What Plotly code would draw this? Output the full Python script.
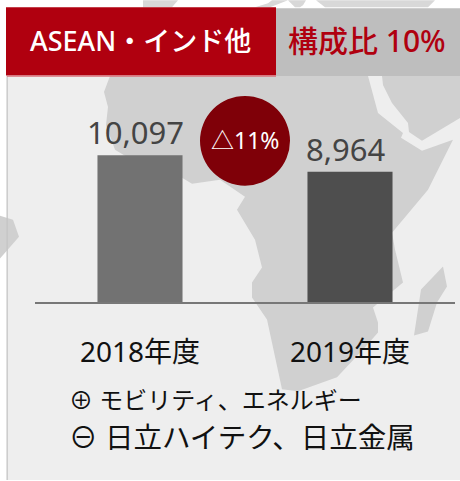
import plotly.graph_objects as go

categories = ["2018年度", "2019年度"]
values = [10097, 8964]
value_labels = ["10,097", "8,964"]
bar_colors = ["#727272", "#4e4e4e"]
header_left = "ASEAN・インド他"
header_right = "構成比 10%"
change_label = "△11%"
note_lines = ["⊕ モビリティ、エネルギー", "⊖ 日立ハイテク、日立金属"]

W, H = 460, 481
L, T, R, B = 35, 76, 455, 302.5
FONT = "Noto Sans, Noto Sans CJK JP, sans-serif"
MAP = "#d0d0d0"
TOPMAP = "#d8d8d8"

def px(x): return (x - L) / (R - L)
def py(y): return (B - y) / (B - T)
def poly(pts, color, layer="below"):
    d = "M" + "L".join(f"{px(x):.5f},{py(y):.5f}" for x, y in pts) + "Z"
    return dict(type="path", xref="paper", yref="paper", path=d, fillcolor=color,
                line=dict(width=0), layer=layer)
def rect(x0, y0, x1, y1, color, layer="below"):
    return dict(type="rect", xref="paper", yref="paper", x0=px(x0), x1=px(x1), y0=py(y1), y1=py(y0),
                fillcolor=color, line=dict(width=0), layer=layer)

africa = [(110,76),(104,92),(108,107),(106,125),(115,150),(140,165),(182,178),(192,184),(220,180),(245,197),(237,210),
          (255,240),(262,268),(252,283),(252,298),(267,320),(282,390),(298,392),(337,378),(363,350),(378,333),(378,323),
          (373,308),(403,283),(395,250),(392,233),(428,190),(453,140),(422,151),(401,138),(403,133),(378,113),(368,76)]
arabia = [(382,76),(383,85),(392,103),(408,123),(409,132),(422,141),(460,118),(460,76)]
madagascar = [(443,267),(447,287),(437,303),(428,332),(414,336),(421,290)]
west = [(0,216),(13,220),(19,237),(0,259)]
top_a = [(143,0),(178,0),(172,7),(143,7)]
top_b = [(255,7),(268,3),(272,0),(306,0),(303,5),(300,7),(295,7),(288,0),(270,7)]
top_c = [(316,0),(435,0),(428,7),(325,7)]

shapes = [
    rect(7, 76, 460, 481, "#eeeeee"),
    poly(top_a, TOPMAP), poly(top_b, TOPMAP), poly(top_c, TOPMAP),
    poly(africa, MAP), poly(arabia, MAP), poly(madagascar, MAP), poly(west, MAP),
    rect(6.5, 76, 7.8, 481, "#c4c4c4"),
    rect(6, 7, 276, 75.5, "#b0000f"),
    rect(7, 75.5, 276, 76.8, "#d8707a"),
    rect(276, 8, 460, 76, "#bebebe"),
    dict(type="circle", xref="paper", yref="paper", x0=px(200), x1=px(290), y0=py(186), y1=py(96),
         fillcolor="#7f0008", line=dict(width=0), layer="below"),
]

def note(text, x, y, size, color, anchor="left", weight=400):
    return dict(text=text, x=px(x), y=py(y), xref="paper", yref="paper", showarrow=False,
                xanchor=anchor, yanchor="middle", font=dict(family=FONT, size=size, color=color, weight=weight))

annotations = [
    note(header_left, 140, 40, 27, "#ffffff", "center", 500),
    note(header_right, 367, 40, 30, "#b0000f", "center", 500),
    note(change_label, 245, 140, 23, "#ffffff", "center"),
    note(note_lines[0], 67, 400, 24, "#111111"),
    note(note_lines[1], 67, 438, 28.5, "#111111"),
]
for cat, val, label in zip(categories, values, value_labels):
    annotations.append(dict(text=label, x=cat, y=val, xref="x", yref="y", showarrow=False,
                            xanchor="center", yanchor="bottom", xshift=-4.5, yshift=0,
                            font=dict(family=FONT, size=31, color="#444444")))

fig = go.Figure(go.Bar(
    x=categories, y=values, marker=dict(color=bar_colors, line=dict(width=0)), width=0.405,
))
fig.update_layout(
    width=W, height=H, autosize=False, showlegend=False,
    paper_bgcolor="#ffffff", plot_bgcolor="rgba(0,0,0,0)",
    margin=dict(l=L, r=W - R, t=T, b=H - B),
    shapes=shapes, annotations=annotations,
    xaxis=dict(showgrid=False, zeroline=False, showline=True, linecolor="#777777", linewidth=2,
               ticks="", ticklabelstandoff=24, tickfont=dict(family=FONT, size=28, color="#111111")),
    yaxis=dict(visible=False, range=[0, 15556]),
)
fig.write_html("out.html", config=dict(displayModeBar=False),
               post_script="document.body.style.margin='0';document.body.style.overflow='hidden';")
